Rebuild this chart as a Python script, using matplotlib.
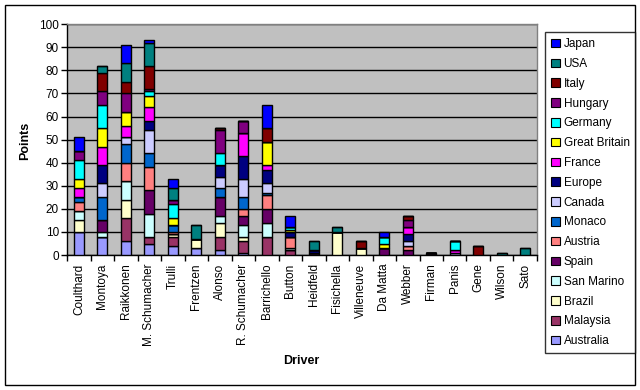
import matplotlib
matplotlib.use('Agg')
import matplotlib.pyplot as plt
from matplotlib.patches import Rectangle, Patch
import numpy as np

plt.rcParams['font.family'] = ['Liberation Sans', 'DejaVu Sans']
plt.rcParams['font.size'] = 8.5

drivers = ['Coulthard', 'Montoya', 'Raikkonen', 'M. Schumacher', 'Trulli', 'Frentzen',
           'Alonso', 'R. Schumacher', 'Barrichello', 'Button', 'Heidfeld', 'Fisichella',
           'Villeneuve', 'Da Matta', 'Webber', 'Firman', 'Panis', 'Gene', 'Wilson', 'Sato']

# points per race, in driver order
australia = [10, 8, 6, 5, 4, 3, 2, 1, 0, 0, 0, 0, 0, 0, 0, 0, 0, 0, 0, 0]
malaysia = [0, 0, 10, 3, 4, 0, 6, 5, 8, 2, 1, 0, 0, 0, 0, 0, 0, 0, 0, 0]
brazil = [5, 0, 8, 0, 1, 4, 6, 2, 0, 0, 0, 10, 3, 0, 0, 0, 0, 0, 0, 0]
san_marino = [4, 2, 8, 10, 0, 0, 3, 5, 6, 1, 0, 0, 0, 0, 0, 0, 0, 0, 0, 0]
spain = [0, 5, 0, 10, 0, 0, 8, 4, 6, 0, 0, 0, 0, 3, 2, 1, 0, 0, 0, 0]
austria = [4, 0, 8, 10, 1, 0, 0, 3, 6, 5, 0, 0, 0, 0, 2, 0, 0, 0, 0, 0]
monaco = [2, 10, 8, 6, 3, 0, 4, 5, 1, 0, 0, 0, 0, 0, 0, 0, 0, 0, 0, 0]
canada = [0, 6, 3, 10, 0, 0, 5, 8, 4, 0, 0, 0, 0, 0, 2, 0, 1, 0, 0, 0]
europe = [0, 8, 0, 4, 0, 0, 5, 10, 6, 2, 1, 0, 0, 0, 3, 0, 0, 0, 0, 0]
france = [4, 8, 5, 6, 0, 0, 0, 10, 2, 0, 0, 0, 0, 0, 3, 0, 1, 0, 0, 0]
great_britain = [4, 8, 6, 5, 3, 0, 0, 0, 10, 1, 0, 0, 0, 2, 0, 0, 0, 0, 0, 0]
germany = [8, 10, 0, 2, 6, 0, 5, 0, 0, 1, 0, 0, 0, 3, 0, 0, 4, 0, 0, 0]
hungary = [4, 6, 8, 1, 2, 0, 10, 5, 0, 0, 0, 0, 0, 0, 3, 0, 0, 0, 0, 0]
italy = [0, 8, 5, 10, 0, 0, 1, 0, 6, 0, 0, 0, 3, 0, 2, 0, 0, 4, 0, 0]
usa = [0, 3, 8, 10, 5, 6, 0, 0, 0, 0, 4, 2, 0, 0, 0, 0, 0, 0, 1, 3]
japan = [6, 0, 8, 1, 4, 0, 0, 0, 10, 5, 0, 0, 0, 2, 0, 0, 0, 0, 0, 0]

races = ['Australia', 'Malaysia', 'Brazil', 'San Marino', 'Spain', 'Austria', 'Monaco',
         'Canada', 'Europe', 'France', 'Great Britain', 'Germany', 'Hungary', 'Italy',
         'USA', 'Japan']
race_points = [australia, malaysia, brazil, san_marino, spain, austria, monaco, canada,
               europe, france, great_britain, germany, hungary, italy, usa, japan]
colors = ['#9999FF', '#993366', '#FFFFCC', '#CCFFFF', '#660066', '#FF8080', '#0066CC',
          '#CCCCFF', '#000080', '#FF00FF', '#FFFF00', '#00FFFF', '#800080', '#800000',
          '#008080', '#0000FF']

fig = plt.figure(figsize=(6.4, 3.9), dpi=100)
ax = fig.add_axes([0.105, 0.346, 0.734, 0.592])
ax.set_facecolor('#C0C0C0')

x = np.arange(len(drivers))
bottom = np.zeros(len(drivers))
for name, pts, c in zip(races, race_points, colors):
    pts = np.array(pts, dtype=float)
    ax.bar(x, pts, 0.42, bottom=bottom, color=c, edgecolor='black', linewidth=1,
           label=name, zorder=3)
    bottom += pts

ax.set_ylim(0, 100)
ax.set_yticks(range(0, 101, 10))
ax.set_xlim(-0.5, len(drivers) - 0.5)
ax.set_xticks(x)
ax.set_xticklabels(drivers, rotation=90)
ax.set_xticks(np.arange(-0.5, len(drivers)), minor=True)
ax.tick_params(axis='x', which='major', length=0, pad=6)
ax.tick_params(axis='x', which='minor', length=4, width=1, color='black', direction='out')
ax.tick_params(axis='y', length=4, width=1, direction='out', pad=2)
ax.yaxis.grid(True, color='black', linewidth=1)
ax.set_axisbelow(True)
for s in ['left', 'bottom']:
    ax.spines[s].set_color('black')
    ax.spines[s].set_linewidth(1)
for s in ['top', 'right']:
    ax.spines[s].set_color('#808080')
    ax.spines[s].set_linewidth(1)

fig.text(0.47, 0.075, 'Driver', ha='center', va='center', fontweight='bold', fontsize=9)
fig.text(0.04, 0.64, 'Points', ha='center', va='center', rotation=90,
         fontweight='bold', fontsize=9)

handles = [Patch(facecolor=c, edgecolor='black', linewidth=0.8) for c in colors]
leg = fig.legend(handles[::-1], races[::-1], loc='upper left',
                 bbox_to_anchor=(0.852, 0.917), frameon=True, fancybox=False,
                 edgecolor='black', handlelength=0.75, handleheight=0.75,
                 handletextpad=0.3, labelspacing=0.66, borderpad=0.5,
                 borderaxespad=0)
leg.get_frame().set_linewidth(1)

fig.patches.append(Rectangle((0.008, 0.013), 0.984, 0.974, transform=fig.transFigure,
                             fill=False, edgecolor='black', linewidth=1))

fig.savefig('out.png', dpi=100)
